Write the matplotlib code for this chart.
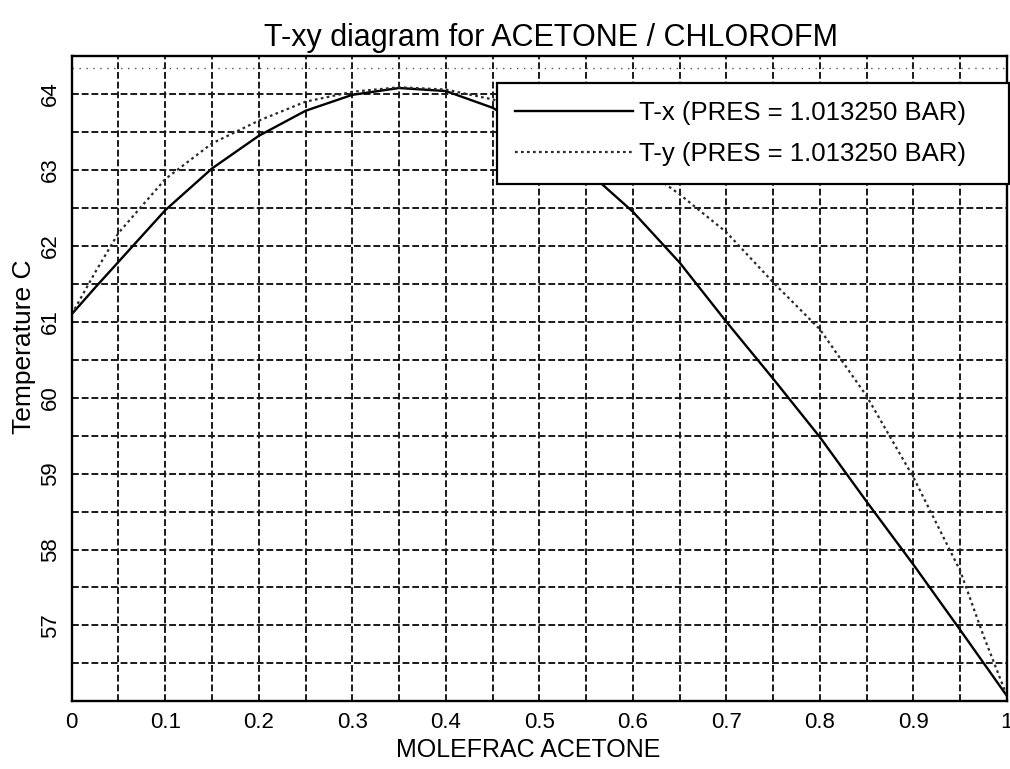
import matplotlib.pyplot as plt
import numpy as np

plt.rcParams['font.family'] = ['Liberation Sans', 'DejaVu Sans']

# liquid composition / bubble temperature (T-x)
x_liq = [0.0, 0.025, 0.05, 0.10, 0.15, 0.20, 0.25, 0.30, 0.35, 0.40, 0.45,
         0.50, 0.55, 0.60, 0.65, 0.70, 0.75, 0.80, 0.85, 0.90, 0.95, 1.0]
t_liq = [61.10, 61.45, 61.79, 62.47, 63.02, 63.45, 63.78, 63.99, 64.08, 64.04, 63.82,
         63.45, 63.00, 62.45, 61.78, 61.00, 60.25, 59.48, 58.63, 57.80, 56.94, 56.07]

# vapour composition / dew temperature (T-y)
y_vap = [0.0, 0.025, 0.05, 0.10, 0.15, 0.20, 0.25, 0.30, 0.35, 0.40, 0.45,
         0.50, 0.55, 0.60, 0.65, 0.70, 0.75, 0.80, 0.85, 0.90, 0.95, 0.975, 1.0]
t_vap = [61.10, 61.65, 62.17, 62.88, 63.35, 63.65, 63.90, 64.03, 64.09, 64.06, 63.93,
         63.75, 63.45, 63.12, 62.68, 62.18, 61.52, 60.90, 60.02, 58.95, 57.72, 56.86, 56.07]

top_dotted = 64.34  # faint dotted line seen near the top of the frame

x_major = np.arange(0, 1.01, 0.1)
x_labels = ['0', '0.1', '0.2', '0.3', '0.4', '0.5', '0.6', '0.7', '0.8', '0.9', '1']
y_major = [57, 58, 59, 60, 61, 62, 63, 64]

fig = plt.figure(figsize=(10.1, 7.69), dpi=100)
ax = fig.add_axes([0.071, 0.088, 0.926, 0.839])

ax.plot(x_liq, t_liq, color='black', linewidth=1.7, linestyle='-',
        label='T-x (PRES = 1.013250 BAR)')
ax.plot(y_vap, t_vap, color='#2a2a2a', linewidth=1.6, linestyle=(0, (1.2, 1.5)),
        label='T-y (PRES = 1.013250 BAR)')
ax.axhline(top_dotted, color='#555555', linewidth=1.0, linestyle=(0, (1, 4)))

ax.set_xlim(0, 1)
ax.set_ylim(56.0, 64.5)
ax.set_xticks(x_major)
ax.set_xticklabels(x_labels, fontsize=16)
ax.set_yticks(y_major)
ax.set_yticklabels([str(v) for v in y_major], fontsize=16, rotation=90, va='center')
ax.set_xticks(np.arange(0, 1.01, 0.05), minor=True)
ax.set_yticks(np.arange(56, 64.51, 0.5), minor=True)
ax.tick_params(which='both', length=0, pad=8)
ax.grid(True, which='both', color='#1a1a1a', linewidth=1.4, linestyle=(0, (3.5, 1.5)))
ax.set_axisbelow(True)
for s in ax.spines.values():
    s.set_linewidth(1.7)
    s.set_color('black')

ax.set_title('T-xy diagram for ACETONE / CHLOROFM', fontsize=22, pad=7, x=0.512)
ax.set_xlabel('MOLEFRAC ACETONE', fontsize=18)
ax.xaxis.set_label_coords(0.488, -0.057)
ax.set_ylabel('Temperature C', fontsize=19)
ax.yaxis.set_label_coords(-0.038, 0.55)

leg = ax.legend(loc='upper left', bbox_to_anchor=(0.4545, 0.805, 0.548, 0.153),
                mode='expand', borderaxespad=0, fontsize=18.5,
                handlelength=4.6, handletextpad=0.25, borderpad=0.7, labelspacing=0.65,
                fancybox=False, framealpha=1, edgecolor='black')
leg.get_frame().set_linewidth(1.6)

fig.savefig('out.png', dpi=100, facecolor='white')
